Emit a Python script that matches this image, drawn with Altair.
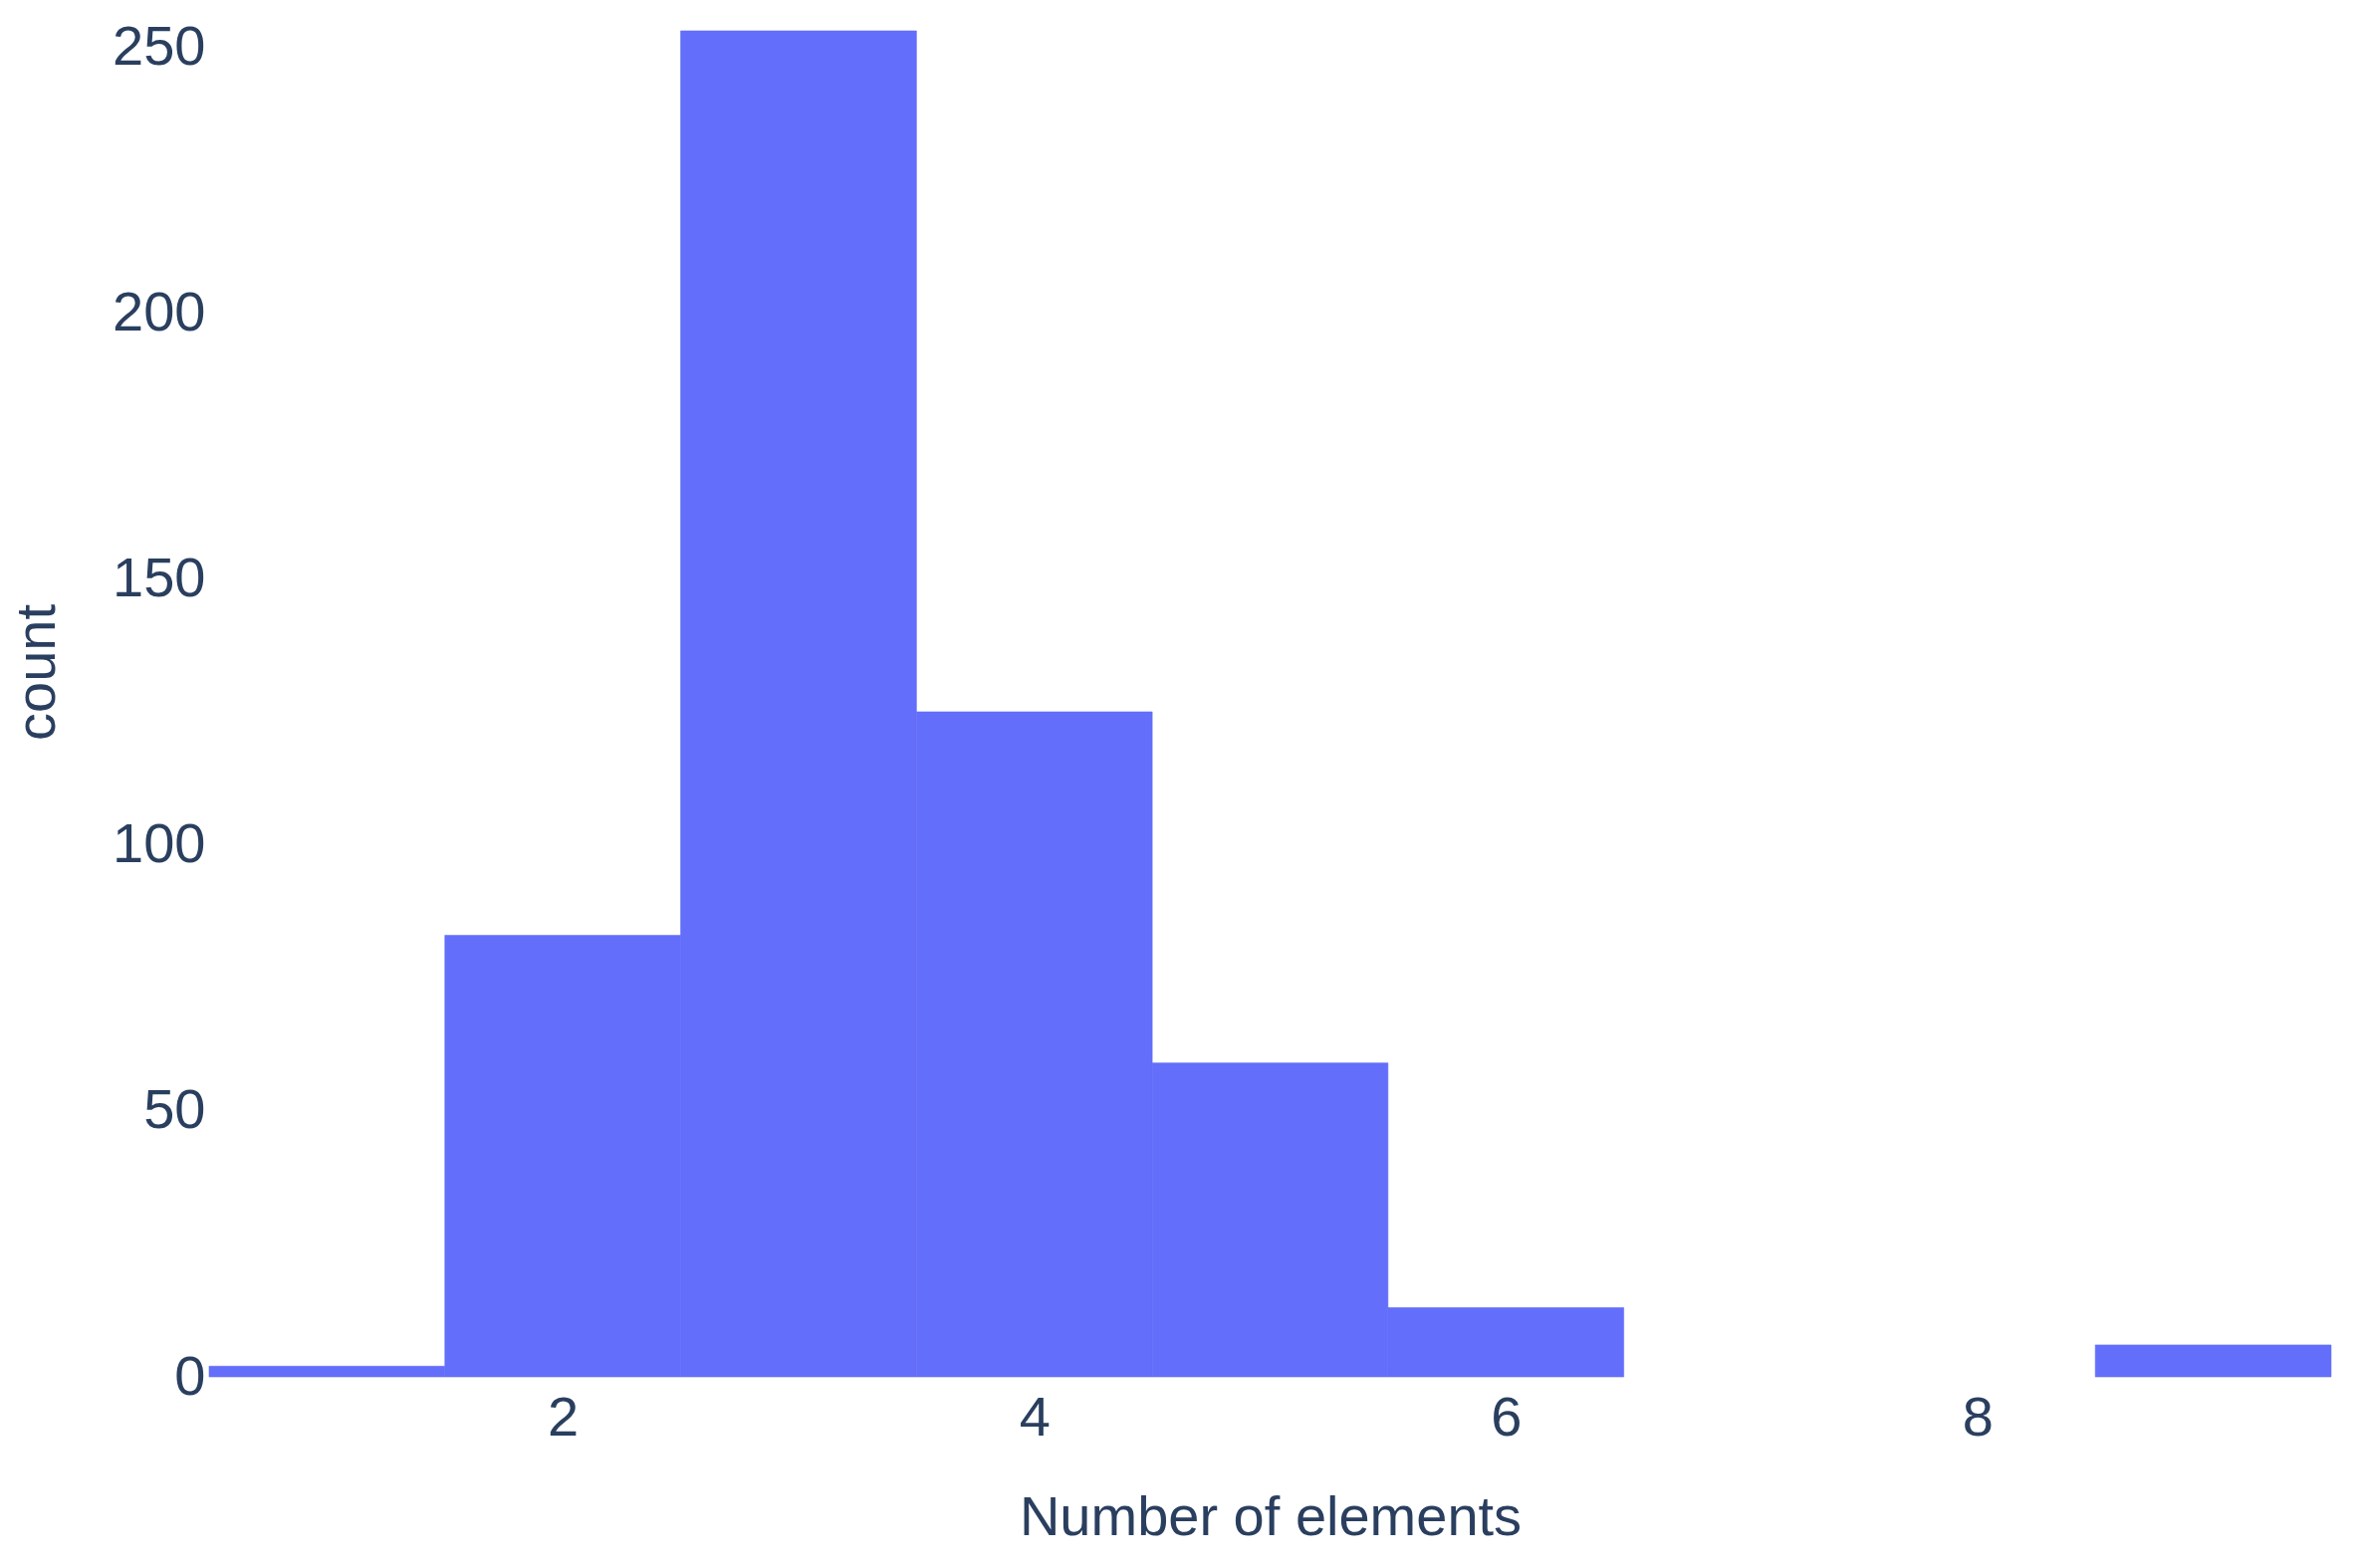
import altair as alt
import pandas as pd

# Histogram of number of elements (bin centers and counts)
bin_centers = [1, 2, 3, 4, 5, 6, 7, 8, 9]
counts = [2, 83, 253, 125, 59, 13, 0, 0, 6]
x_ticks = [2, 4, 6, 8]
y_ticks = [0, 50, 100, 150, 200, 250]

df = pd.DataFrame({
    "center": bin_centers,
    "count": counts,
})
df["start"] = df["center"] - 0.5
df["end"] = df["center"] + 0.5
df = df[df["count"] > 0]

TXT = "#2a3f5f"
FONT = "Liberation Sans"
BAR = "#636efa"

chart = alt.Chart(df).mark_rect(color=BAR, stroke=BAR, strokeWidth=0.6).encode(
    x=alt.X("start:Q",
            scale=alt.Scale(domain=[0.5, 9.5], nice=False, zero=False),
            axis=alt.Axis(values=x_ticks, title="Number of elements", grid=False,
                          domain=False, ticks=False, labelPadding=14,
                          labelFontSize=56, labelColor=TXT, labelFont=FONT,
                          titleFontSize=56, titleColor=TXT, titleFont=FONT,
                          titleFontWeight="normal", titleBaseline="alphabetic",
                          titleY=158)),
    x2="end:Q",
    y=alt.Y("count:Q",
            scale=alt.Scale(domain=[0, 257.3], nice=False),
            axis=alt.Axis(values=y_ticks, title="count", grid=False,
                          domain=False, ticks=False, labelPadding=4,
                          labelFontSize=56, labelColor=TXT, labelFont=FONT,
                          titleFontSize=56, titleColor=TXT, titleFont=FONT,
                          titleFontWeight="normal", titleAngle=270,
                          titleBaseline="alphabetic", titleAlign="center",
                          titleX=-156, titleY=667)),
    y2=alt.datum(0),
).properties(
    width=2131,
    height=1375,
    autosize=alt.AutoSizeParams(type="none"),
    padding={"left": 202, "top": 0, "right": 10, "bottom": 180},
).configure_view(stroke=None)

chart.save("out.html", embed_options={"renderer": "svg", "actions": False})
